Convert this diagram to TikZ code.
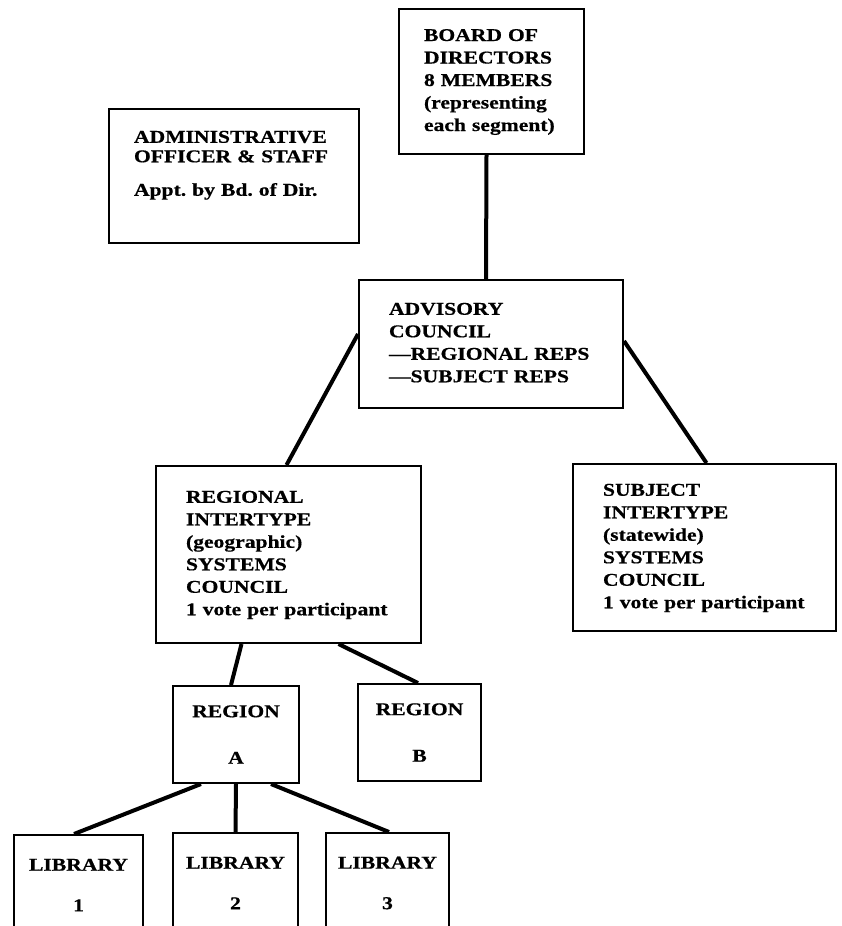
\documentclass[tikz,border=0pt]{standalone}
\usepackage{fontspec}
\setmainfont{Liberation Serif}[FakeStretch=1.2, BoldFeatures={FakeBold=0.6}]
\frenchspacing
\newcommand\boxlines[2]{\hspace*{#1}\begin{tabular}[c]{@{}l@{}}#2\end{tabular}}
\begin{document}
\begin{tikzpicture}[x=1pt,y=1pt,
  orgbox/.style={draw, line width=2pt, rectangle, inner sep=0pt, anchor=north west,
    font=\bfseries\fontsize{18}{22.5}\selectfont},
  tbox/.style 2 args={orgbox, minimum width=#1, text width=#1, minimum height=#2, align=left},
  cbox/.style 2 args={orgbox, minimum width=#1, minimum height=#2, align=center},
  wire/.style={line width=4pt}]
\useasboundingbox (0,0) rectangle (841,-926);
\clip (0,0) rectangle (841,-926);

\node[tbox={185pt}{145pt}] (board) at (398,-8)
  {\boxlines{25pt}{BOARD OF\\DIRECTORS\\8 MEMBERS\\(representing\\each segment)}};
\node[tbox={250pt}{134pt}] (admin) at (108,-108)
  {\boxlines{25pt}{ADMINISTRATIVE\\[-3pt]OFFICER \& STAFF\\[11pt]Appt. by Bd. of Dir.\\ ~}};
\node[tbox={264pt}{128pt}] (adv) at (358,-279)
  {\boxlines{30pt}{ADVISORY\\COUNCIL\\---REGIONAL REPS\\---SUBJECT REPS}};
\node[tbox={265pt}{177pt}] (reg) at (155,-465)
  {\boxlines{30pt}{REGIONAL\\INTERTYPE\\(geographic)\\SYSTEMS\\COUNCIL\\1 vote per participant}};
\node[tbox={263pt}{167pt}] (subj) at (572,-463)
  {\boxlines{30pt}{SUBJECT\\INTERTYPE\\(statewide)\\SYSTEMS\\COUNCIL\\1 vote per participant}};
\node[cbox={126pt}{97pt}] (ra) at (172,-685) {REGION\\[24pt]A};
\node[cbox={123pt}{97pt}] (rb) at (357,-683) {REGION\\[24pt]B};
\node[cbox={129pt}{100pt}] (l1) at (13,-834) {LIBRARY\\[18pt]1};
\node[cbox={125pt}{100pt}] (l2) at (172,-832) {LIBRARY\\[18pt]2};
\node[cbox={123pt}{100pt}] (l3) at (325,-832) {LIBRARY\\[18pt]3};

\draw[wire] ([xshift=-5pt]board.south) -- ([xshift=-5pt]adv.north);
\draw[wire] ([yshift=10pt]adv.west) -- ([xshift=-2pt]reg.north);
\draw[wire] ([yshift=3pt]adv.east) -- ([xshift=2pt]subj.north);
\draw[wire] ([xshift=-47pt]reg.south) -- ([xshift=-5pt]ra.north);
\draw[wire] ([xshift=50pt]reg.south) -- ([xshift=-1.5pt]rb.north);
\draw[wire] ([xshift=-35pt]ra.south) -- ([xshift=-4.5pt]l1.north);
\draw[wire] (ra.south) -- (l2.north);
\draw[wire] ([xshift=35pt]ra.south) -- ([xshift=1.5pt]l3.north);
\end{tikzpicture}
\end{document}
